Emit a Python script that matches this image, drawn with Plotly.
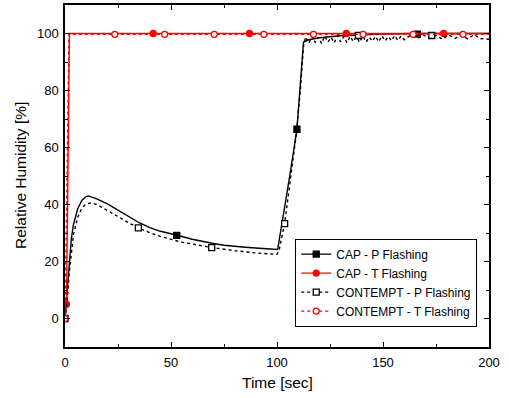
import plotly.graph_objects as go

# ---------------- data ----------------
cap_p_t = [0, 1, 1.8, 3, 4, 6, 8, 10, 11, 12, 15, 20, 25, 30, 35, 40, 45, 52.9, 60, 70, 75, 85, 92, 100,
           100.4, 103, 106, 109.4, 111, 112.5, 115, 120, 130, 140, 150, 166, 200]
cap_p_v = [0, 10, 19.4, 28, 33, 38.5, 41.5, 42.8, 43.0, 42.8, 42.0, 40.2, 38.0, 35.7, 33.6, 31.9, 30.6, 29.2, 27.8, 26.3, 25.7, 25.0, 24.6, 24.2,
           24.6, 36, 50, 66.4, 82, 97, 97.8, 98.5, 99.2, 99.6, 99.8, 100, 100]
cap_p_mark_t = [52.7, 109.4, 166.2]
cap_p_mark_v = [29.2, 66.4, 99.8]

cap_t_t = [0, 0.7, 2.1, 200]
cap_t_v = [0, 5, 100, 100]
cap_t_mark_t = [0.7, 41.6, 87.0, 132.7, 178.6]
cap_t_mark_v = [5, 100, 100, 100, 100]

con_p_t = [0, 1, 2, 3, 4, 6, 8, 10, 12, 15, 20, 25, 30, 34.6, 40, 45, 55, 69.2, 80, 90, 100,
           101, 103.6, 106, 109, 111, 112.5,
           113.5, 115, 116.5, 118, 119.5, 121, 122.5, 124, 125.5, 127, 128.5, 130, 131.5, 133, 134.5,
           136, 137.5, 139, 140.5, 142, 143.5, 145, 146.5, 148, 149.5, 151, 152.5, 154, 155.5, 157,
           158.5, 160, 163, 166, 169, 172, 175, 178, 181, 184, 187, 190, 193, 196, 200]
con_p_v = [0, 6, 16, 24, 29.5, 35.5, 38.8, 40.2, 40.5, 40.0, 38.0, 35.8, 33.6, 31.8, 30.1, 28.8, 26.8, 24.9, 23.8, 23.0, 22.5,
           24, 33.3, 47, 64, 80, 95.5,
           98.8, 96.6, 99.0, 96.9, 98.7, 96.5, 99.1, 97.0, 98.6, 96.7, 99.2, 97.1, 98.9, 96.8, 99.0,
           97.2, 98.8, 96.9, 99.1, 97.0, 98.7, 97.3, 99.0, 97.1, 99.2, 97.4, 98.9, 97.5, 99.3, 97.6,
           99.1, 97.8, 99.4, 98.2, 99.5, 98.4, 99.3, 98.0, 99.5, 98.3, 99.4, 98.1, 99.6, 98.2, 98.0]
con_p_mark_t = [0, 34.6, 69.2, 103.6, 138.4, 173.0]
con_p_mark_v = [0, 31.8, 24.9, 33.3, 99.3, 99.3]

con_t_t = [0, 1.9, 200]
con_t_v = [0, 99.7, 99.7]
con_t_mark_t = [0, 23.5, 47.0, 70.4, 93.8, 117.2, 140.6, 164.2, 187.7]
con_t_mark_v = [0, 99.7, 99.7, 99.7, 99.7, 99.7, 99.7, 99.7, 99.7]

names = ["CAP - P Flashing", "CAP - T Flashing", "CONTEMPT - P Flashing", "CONTEMPT - T Flashing"]
x_ticks = [0, 50, 100, 150, 200]
y_ticks = [0, 20, 40, 60, 80, 100]
x_title = "Time [sec]"
y_title = "Relative Humidity [%]"

# ---------------- figure ----------------
FONT = "Liberation Sans, Arial, sans-serif"
series = [
    (cap_p_t, cap_p_v, cap_p_mark_t, cap_p_mark_v, "black", "solid", "square", "black"),
    (cap_t_t, cap_t_v, cap_t_mark_t, cap_t_mark_v, "red", "solid", "circle", "red"),
    (con_p_t, con_p_v, con_p_mark_t, con_p_mark_v, "black", "3px,3px", "square", "white"),
    (con_t_t, con_t_v, con_t_mark_t, con_t_mark_v, "red", "3px,3px", "circle", "white"),
]

fig = go.Figure()
for name, (t, v, mt, mv, col, dash, sym, fill) in zip(names, series):
    fig.add_trace(go.Scatter(x=t, y=v, mode="lines", line=dict(color=col, width=1.4, dash=dash),
                             showlegend=False, legendgroup=name, hoverinfo="skip"))
    fig.add_trace(go.Scatter(x=mt, y=mv, mode="markers",
                             marker=dict(symbol=sym, size=6, color=fill, line=dict(color=col, width=1.3)),
                             showlegend=False, legendgroup=name))
for name, (t, v, mt, mv, col, dash, sym, fill) in zip(names, series):
    fig.add_trace(go.Scatter(x=[None], y=[None], mode="lines+markers", name=name, legendgroup=name,
                             line=dict(color=col, width=1.4, dash=dash),
                             marker=dict(symbol=sym, size=6, color=fill, line=dict(color=col, width=1.3))))

axis_common = dict(showgrid=False, zeroline=False, showline=True, linecolor="black", linewidth=1.5,
                   mirror="allticks", ticks="inside", ticklen=5, tickwidth=1.2, tickcolor="black",
                   automargin=False,
                   tickfont=dict(family=FONT, size=13, color="black"))
fig.update_xaxes(range=[0, 200], tickvals=x_ticks, ticklabelstandoff=3,
                 minor=dict(dtick=25, ticks="inside", ticklen=3, tickwidth=1.2, tickcolor="black"),
                 **axis_common)
fig.update_yaxes(range=[-10, 110], tickvals=y_ticks, ticklabelstandoff=2,
                 minor=dict(dtick=10, ticks="inside", ticklen=3, tickwidth=1.2, tickcolor="black"),
                 **axis_common)

fig.update_layout(
    width=509, height=398,
    margin=dict(l=65, r=20, t=5, b=51, autoexpand=False),
    paper_bgcolor="white", plot_bgcolor="white",
    legend=dict(x=0.543, y=0.317, xanchor="left", yanchor="top",
                bgcolor="white", bordercolor="black", borderwidth=1,
                font=dict(family=FONT, size=12, color="black"),
                tracegroupgap=0, itemwidth=30),
    annotations=[
        dict(text=x_title, xref="paper", yref="paper", x=0.5, y=-36 / 342, xanchor="center", yanchor="middle",
             showarrow=False, font=dict(family=FONT, size=15.5, color="black")),
        dict(text=y_title, xref="paper", yref="paper", x=-45 / 424, y=(347 - 176) / 342, xanchor="center",
             yanchor="middle", textangle=-90, showarrow=False, font=dict(family=FONT, size=15.5, color="black")),
    ],
)

fig.write_html("out.html", config={"displayModeBar": False},
               post_script="document.body.style.margin='0';document.body.style.overflow='hidden';")
